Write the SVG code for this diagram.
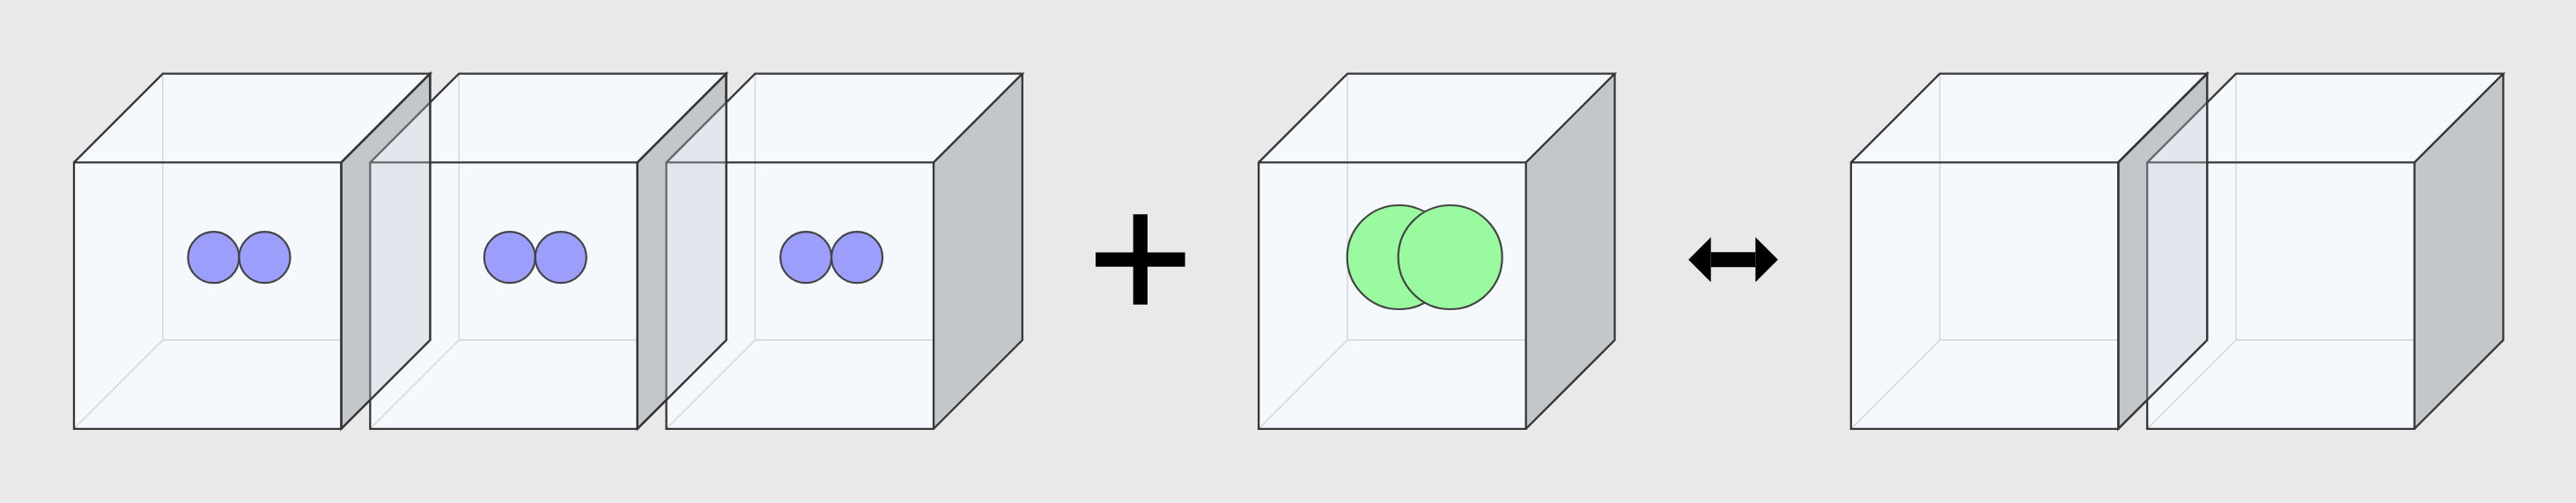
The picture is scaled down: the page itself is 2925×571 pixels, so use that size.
<svg xmlns="http://www.w3.org/2000/svg" xmlns:xlink="http://www.w3.org/1999/xlink" width="2925" height="571" viewBox="0 0 2925 571">
<style>
.bg{fill:#e9e9e9}
.face{fill:#f5f8fc;stroke:none}
.side{fill:#c4c7ca;stroke:none}
.hidden{fill:none;stroke:#d0d3d7;stroke-width:1.3}
.edge{fill:none;stroke:#363636;stroke-width:2.3;stroke-linejoin:miter}
.dim{fill:none;stroke:#64686c;stroke-width:2.3}
.ov{fill:#e2e6ed;stroke:none}
.blue{fill:#9b9ffb;stroke:#444;stroke-width:2.2}
.green{fill:#9afa9f;stroke:#444;stroke-width:2.2}
.op{font-family:"Liberation Sans",Arial,sans-serif;font-size:206px;fill:#000;stroke:#000;stroke-width:1.5}
</style>
<defs>
<g id="cubeBody">
<polygon class="face" points="0,184.4 303.5,184.4 303.5,486.8 0,486.8"/>
<polygon class="face" points="0,184.4 100.8,83.6 404.3,83.6 303.5,184.4"/>
<polygon class="side" points="303.5,184.4 404.3,83.6 404.3,386 303.5,486.8"/>
<path class="hidden" d="M100.8,83.6 V386 H303.5 M0,486.8 L100.8,386"/>
<path class="edge" d="M0,184.4 H303.5 V486.8 H0 Z M0,184.4 L100.8,83.6 H404.3 L303.5,184.4 M404.3,83.6 V386 L303.5,486.8"/>
</g>
<g id="overlap">
<polygon class="ov" points="336.3,184.4 404.3,116.4 404.3,386 336.3,454"/>
<path class="dim" d="M336.3,454 V184.4 L404.3,116.4 M336.3,184.4 H404.3"/>
<path class="edge" d="M303.5,184.4 L404.3,83.6 V386 L303.5,486.8 Z"/>
</g>
<g id="bluePair">
<circle class="blue" cx="158.5" cy="292.2" r="29"/>
<circle class="blue" cx="216.5" cy="292.2" r="29"/>
</g>
<marker id="head" markerUnits="userSpaceOnUse" markerWidth="26" markerHeight="52" refX="0" refY="25.5" orient="auto-start-reverse" viewBox="0 0 26 52">
<path d="M0,0 L25.5,25.5 L0,51 Z" fill="#000"/>
</marker>
</defs>
<rect class="bg" x="0" y="0" width="2925" height="571"/>

<g id="cube3" transform="translate(756.6,0)">
<use xlink:href="#cubeBody"/>
<use xlink:href="#bluePair"/>
</g>
<g id="cube2" transform="translate(420.3,0)">
<use xlink:href="#cubeBody"/>
<use xlink:href="#bluePair"/>
<use xlink:href="#overlap"/>
</g>
<g id="cube1" transform="translate(84,0)">
<use xlink:href="#cubeBody"/>
<use xlink:href="#bluePair"/>
<use xlink:href="#overlap"/>
</g>

<g id="plus">
<text class="op" x="1295" y="363" text-anchor="middle">+</text>
</g>

<g id="cube4" transform="translate(1429.2,0)">
<use xlink:href="#cubeBody"/>
<circle class="green" cx="159.5" cy="292" r="59"/>
<circle class="green" cx="217.5" cy="292" r="59"/>
</g>

<g id="connectors">
<line x1="1942.7" y1="294.8" x2="1993.3" y2="294.8" stroke="#000" stroke-width="17" marker-start="url(#head)" marker-end="url(#head)"/>
</g>

<g id="cube6" transform="translate(2438.1,0)">
<use xlink:href="#cubeBody"/>
</g>
<g id="cube5" transform="translate(2101.8,0)">
<use xlink:href="#cubeBody"/>
<use xlink:href="#overlap"/>
</g>
</svg>
